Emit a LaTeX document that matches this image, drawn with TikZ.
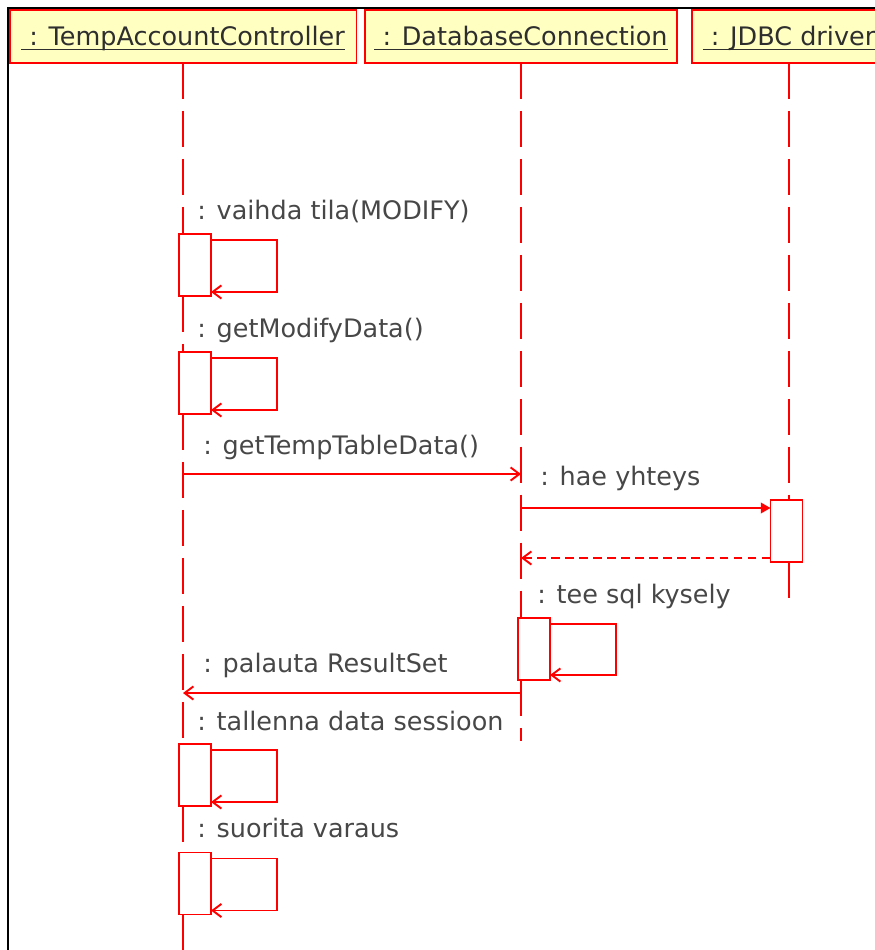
\documentclass[tikz,border=0pt]{standalone}
\usepackage{fontspec}
\setmainfont{DejaVu Sans}
\usepackage{tikz}
\usetikzlibrary{arrows.meta, calc}
\definecolor{umlred}{HTML}{FF0000}
\definecolor{umlyellow}{HTML}{FFFFC2}
\definecolor{labelgray}{HTML}{474747}
\definecolor{headgray}{HTML}{2E2E2E}
\tikzstyle{header} = [rectangle, draw=umlred, line width=1.1pt, fill=umlyellow, text=headgray, inner sep=0pt, outer sep=0pt, minimum height=1.06cm, text height=11pt, text depth=1pt, font=\fontsize{14.5}{17}\selectfont]
\tikzstyle{activation} = [rectangle, draw=umlred, line width=1.1pt, fill=white, inner sep=0pt, outer sep=0pt, minimum width=0.64cm, minimum height=1.24cm]
\tikzstyle{lifeline} = [draw=umlred, line width=1.1pt, dash pattern=on 20.5pt off 6.8pt]
\tikzstyle{msglabel} = [text=labelgray, inner sep=0pt, anchor=base west, font=\fontsize{14.5}{17}\selectfont]
\tikzstyle{call} = [draw=umlred, line width=1.1pt, -{Straight Barb[length=5pt, width=7.5pt]}]
\tikzstyle{synccall} = [draw=umlred, line width=1.1pt, -{Triangle[length=5.5pt, width=6pt]}]
\tikzstyle{reply} = [call, dash pattern=on 5pt off 3pt]
\newcommand{\objname}[1]{\setbox0\hbox{#1}\rlap{\rule[-2.7pt]{\wd0}{0.8pt}}\box0}

\begin{document}
\begin{tikzpicture}[x=0.02cm, y=-0.02cm]
\useasboundingbox (0,0) rectangle (875,950);
\clip (0,0) rectangle (875,950);
\draw[line width=1.7pt, black] (8,8) rectangle (900,1000);

%% objects
\node[header, minimum width=6.94cm] at (183, 36.5) (tac) {\objname{\ : TempAccountController}};
\node[header, minimum width=6.24cm] at (521, 36.5) (dbc) {\objname{\ : DatabaseConnection}};
\node[header, minimum width=3.88cm] at (789, 36.5) (jdbc) {\objname{\ : JDBC driver}};

%% activations
\node[activation] at (195, 265) (act1) {};
\node[activation] at (195, 383) (act2) {};
\node[activation] at (786.5, 531) (jact) {};
\node[activation] at (534, 649) (dact) {};
\node[activation] at (195, 775) (act3) {};
\node[activation] at (195, 883.5) (act4) {};

%% lifelines
\path[lifeline] (tac.south) -- (tac.south |- act1.north);
\path[lifeline] (tac.south |- act1.south) -- (tac.south |- act2.north);
\path[lifeline] (tac.south |- act2.south) -- (tac.south |- act3.north);
\path[lifeline] (tac.south |- act3.south) -- (tac.south |- act4.north);
\path[lifeline] (tac.south |- act4.south) -- (tac.south |- 0,960);
\path[lifeline] (dbc.south) -- (dbc.south |- dact.north);
\path[lifeline] (dbc.south |- dact.south) -- (dbc.south |- 0,741);
\path[lifeline] (jdbc.south) -- (jdbc.south |- jact.north);
\path[lifeline] (jdbc.south |- jact.south) -- (jdbc.south |- 0,603);

%% self calls
\node[msglabel] at (197, 219) (vaihda) {: vaihda tila(MODIFY)};
\path[call] ($(act1.north east)+(0,6)$) -- ++(66,0) |- ($(act1.south east)+(0,-4)$);

\node[msglabel] at (197, 337) (getmodify) {: getModifyData()};
\path[call] ($(act2.north east)+(0,6)$) -- ++(66,0) |- ($(act2.south east)+(0,-4)$);

%% database
\node[msglabel] at (203, 454) (gettemp) {: getTempTableData()};
\path[call] (tac.south |- 0,474) -- (dbc.south |- 0,474);

\node[msglabel] at (540, 485) (haeyhteys) {: hae yhteys};
\path[synccall] (dbc.south |- 0,508) -- (jact.west |- 0,508);
\path[reply] (jact.west |- 0,558) -- (dbc.south |- 0,558);

\node[msglabel] at (537, 603) (teesql) {: tee sql kysely};
\path[call] ($(dact.north east)+(0,6)$) -- ++(66,0) |- ($(dact.south east)+(0,-5)$);

\node[msglabel] at (203, 672) (palauta) {: palauta ResultSet};
\path[call] (dbc.south |- 0,693) -- (tac.south |- 0,693);

%% back in controller
\node[msglabel] at (197, 730) (tallenna) {: tallenna data sessioon};
\path[call] ($(act3.north east)+(0,6)$) -- ++(66,0) |- ($(act3.south east)+(0,-4)$);

\node[msglabel] at (197, 837) (suorita) {: suorita varaus};
\path[call] ($(act4.north east)+(0,6)$) -- ++(66,0) |- ($(act4.south east)+(0,-4)$);

\end{tikzpicture}
\end{document}
